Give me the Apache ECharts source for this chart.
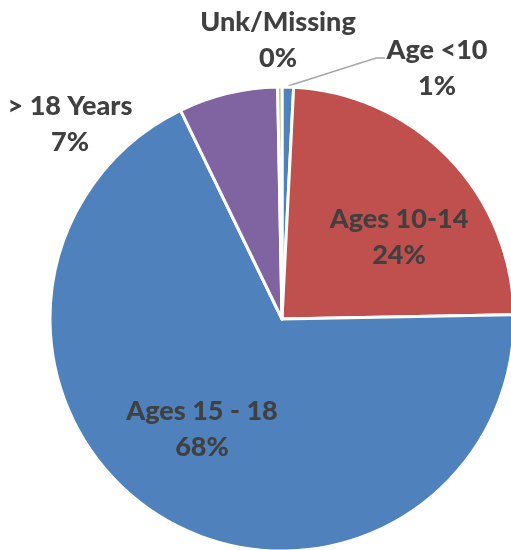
<!DOCTYPE html>
<html>
<head>
<meta charset="UTF-8">
<title></title>
<script src="https://cdn.jsdelivr.net/npm/echarts@6/dist/echarts.min.js"></script>
<style>
  html, body { margin: 0; padding: 0; background: #fff; }
</style>
</head>
<body>
<div id="box" style="width: 511px;height: 550px;"></div>
<script type="text/javascript">
// slices, clockwise from 12 o'clock
const categories = ['Age <10', 'Ages 10-14', 'Ages 15 - 18', '> 18 Years', 'Unk/Missing'];
const shares = [0.8, 23.9, 68.1, 6.9, 0.3];
const percentLabels = ['1%', '24%', '68%', '7%', '0%'];
const colors = ['#4F81BD', '#C0504D', '#4F81BD', '#8064A2', '#9BBB59'];

// where each label sits (centre of the text block)
const labelPos = [[437, 68], [399, 237], [202, 429], [70, 124], [278, 40]];

const myChart = echarts.init(document.getElementById('box'));

const option = {
    animation: false,
    series: [{
        type: 'pie',
        center: [282, 319],
        radius: 232,
        startAngle: 90,
        clockwise: true,
        minAngle: 0,
        avoidLabelOverlap: false,
        itemStyle: {
            borderColor: '#fff',
            borderWidth: 3
        },
        label: {
            show: true,
            position: 'inside',
            fontFamily: 'Lato',
            fontWeight: 900,
            fontSize: 27,
            lineHeight: 36,
            color: '#404040',
            align: 'center',
            formatter: p => p.name + '\n' + percentLabels[p.dataIndex]
        },
        labelLine: {
            show: false,
            lineStyle: { color: '#A6A6A6', width: 1.5 }
        },
        labelLayout: function (params) {
            const pos = labelPos[params.dataIndex];
            const out = {
                x: pos[0],
                y: pos[1],
                align: 'center',
                verticalAlign: 'middle'
            };
            if (params.dataIndex === 0) {
                out.labelLinePoints = [[288, 86], [376, 58], [385, 58]];
            }
            return out;
        },
        data: categories.map((c, i) => ({
            name: c,
            value: shares[i],
            itemStyle: { color: colors[i] },
            label: i === 0 || i >= 3 ? { position: 'outside' } : {},
            labelLine: i === 0 ? { show: true } : {}
        }))
    }]
};

myChart.setOption(option);
</script>
</body>
</html>
